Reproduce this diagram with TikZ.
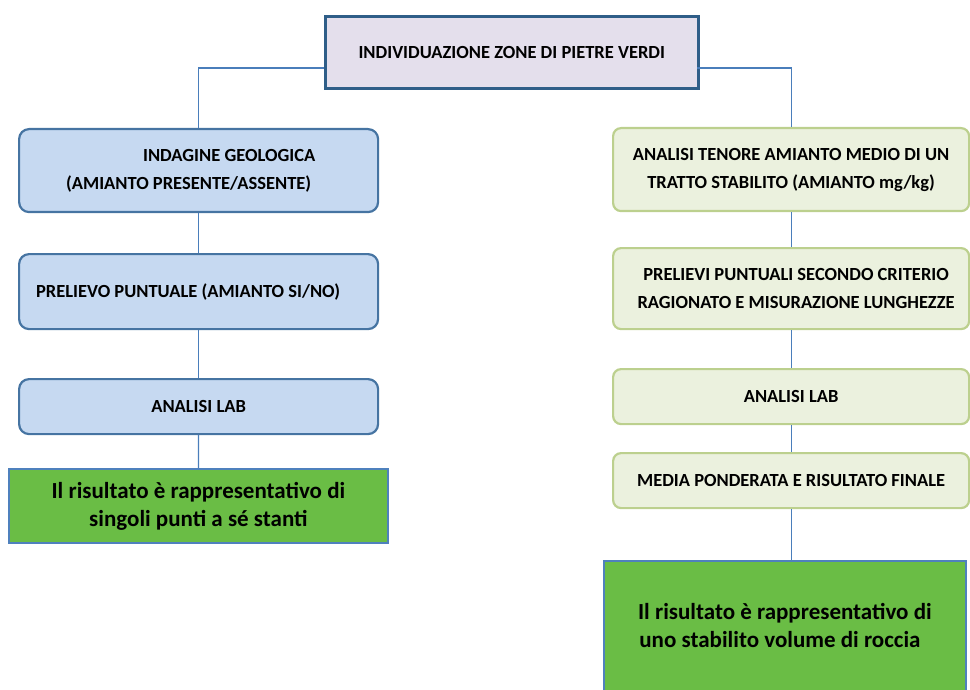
\documentclass[tikz,border=0pt]{standalone}
\usepackage{fontspec}
\setmainfont{Carlito}
\definecolor{topfill}{HTML}{E4DFEC}
\definecolor{topline}{HTML}{2F5E88}
\definecolor{bluefill}{HTML}{C6D9F1}
\definecolor{blueline}{HTML}{4674A2}
\definecolor{creamfill}{HTML}{EBF1DE}
\definecolor{creamline}{HTML}{BCD08E}
\definecolor{resfill}{HTML}{6ABD45}
\definecolor{resline}{HTML}{4F81BD}
\definecolor{linkcol}{HTML}{4A7EBB}
\begin{document}
\begin{tikzpicture}[x=1pt,y=-1pt,
	box/.style={draw,anchor=north west,inner sep=0pt,font=\bfseries\fontsize{18.5}{28}\selectfont},
	leftbox/.style={box,fill=bluefill,draw=blueline,line width=2.2pt,rounded corners=10pt},
	rightbox/.style={box,fill=creamfill,draw=creamline,line width=2.2pt,rounded corners=8pt},
	resbox/.style={box,fill=resfill,draw=resline,line width=1.8pt,font=\bfseries\fontsize{23}{28}\selectfont,align=center},
	link/.style={draw=linkcol,line width=1.2pt}]
	\useasboundingbox (0,0) rectangle (970,690);
	% top
	\node[box,fill=topfill,draw=topline,line width=2.6pt,minimum width=373pt,minimum height=72pt,text depth=-3pt] (top) at (324,15) {INDIVIDUAZIONE ZONE DI PIETRE VERDI};
	% left column
	\node[leftbox,minimum width=359pt,minimum height=83pt,text width=265pt,align=flush left] (geo) at (18,128) {\hspace*{77pt}INDAGINE GEOLOGICA\\(AMIANTO PRESENTE/ASSENTE)};
	\node[leftbox,minimum width=359pt,minimum height=75pt,text width=325pt,align=flush left] (prel) at (18,253) {PRELIEVO PUNTUALE (AMIANTO SI/NO)};
	\node[leftbox,minimum width=359pt,minimum height=55pt] (labL) at (18,378) {ANALISI LAB};
	\node[resbox,minimum width=379pt,minimum height=74pt] (resL) at (8,468) {Il risultato è rappresentativo di\\singoli punti a sé stanti};
	% right column
	\node[rightbox,minimum width=356pt,minimum height=83pt,align=center] (ten) at (612,127) {ANALISI TENORE AMIANTO MEDIO DI UN\\TRATTO STABILITO (AMIANTO mg/kg)};
	\node[rightbox,minimum width=356pt,minimum height=81pt,align=center] (crit) at (612,247) {\hspace*{10pt}PRELIEVI PUNTUALI SECONDO CRITERIO\\\hspace*{10pt}RAGIONATO E MISURAZIONE LUNGHEZZE};
	\node[rightbox,minimum width=356pt,minimum height=55pt] (labR) at (612,368) {ANALISI LAB};
	\node[rightbox,minimum width=356pt,minimum height=55pt] (media) at (612,452) {MEDIA PONDERATA E RISULTATO FINALE};
	\node[resbox,minimum width=362pt,minimum height=130pt] (resR) at (603,560) {Il risultato è rappresentativo di\\uno stabilito volume di roccia\hspace*{10pt}};
	% connectors
	\coordinate (jL) at (324,68);
	\coordinate (jR) at (697,68);
	\draw[link] (geo.north) |- (jL);
	\draw[link] (ten.north) |- (jR);
	\draw[link] (geo) -- (prel);
	\draw[link] (prel) -- (labL);
	\draw[link] (labL) -- (resL);
	\draw[link] (ten) -- (crit);
	\draw[link] (crit) -- (labR);
	\draw[link] (labR) -- (media);
	\draw[link] (media.south) -- (media.south |- resR.north);
\end{tikzpicture}
\end{document}
